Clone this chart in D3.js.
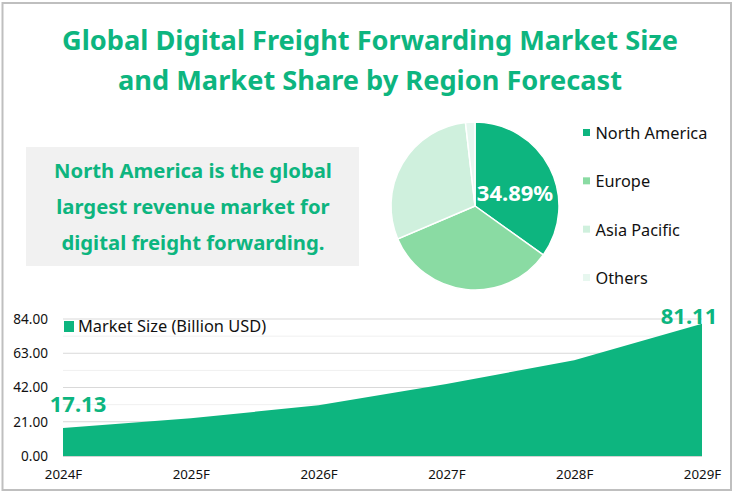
<!DOCTYPE html>
<html lang="en">
<head>
<meta charset="UTF-8">
<title>Global Digital Freight Forwarding Market</title>
<style>
  html, body { margin: 0; padding: 0; background: #fff; }
  svg { display: block; font-family: "Noto Sans", sans-serif; }
</style>
</head>
<body>
<svg id="chart" width="734" height="496"></svg>
<script src="https://d3js.org/d3.v7.min.js"></script>
<script>
const titleLines = ["Global Digital Freight Forwarding Market Size", "and Market Share by Region Forecast"]
const noteLines = ["North America is the global", "largest revenue market for", "digital freight forwarding."]

const regions = ["North America", "Europe", "Asia Pacific", "Others"]
const shares = [34.89, 33.7, 29.6, 1.81]
const regionColors = ["#0db57f", "#8adba3", "#cff0dd", "#e7f7ef"]

const years = ["2024F", "2025F", "2026F", "2027F", "2028F", "2029F"]
const marketSize = [17.13, 23.1, 31.1, 44.2, 58.7, 81.11]
const majorTicks = [0, 21, 42, 63, 84]
const minorTicks = [10.5, 31.5, 52.5, 73.5]

const green = "#0db57f"
const svg = d3.select("#chart")

// outer frame
svg.append("rect")
  .attr("x", 2.5).attr("y", 3).attr("width", 728.5).attr("height", 487)
  .attr("fill", "#fff").attr("stroke", "#bfbfbf").attr("stroke-width", 2)

// title
svg.append("g").selectAll("text")
  .data(titleLines)
  .enter().append("text")
  .attr("x", 370)
  .attr("y", (d, i) => 50 + i * 40)
  .attr("text-anchor", "middle")
  .attr("font-size", 27.2)
  .attr("font-weight", 700)
  .attr("fill", green)
  .text(d => d)

// note box
svg.append("rect")
  .attr("x", 26).attr("y", 147).attr("width", 333).attr("height", 119)
  .attr("fill", "#f1f1f1")

svg.append("g").selectAll("text")
  .data(noteLines)
  .enter().append("text")
  .attr("x", 193)
  .attr("y", (d, i) => 178 + i * 36)
  .attr("text-anchor", "middle")
  .attr("font-size", 20.3)
  .attr("font-weight", 700)
  .attr("fill", green)
  .text(d => d)

// pie
const pie = d3.pie().sort(null)
const arc = d3.arc().innerRadius(0).outerRadius(84)
const pieGroup = svg.append("g").attr("transform", "translate(475,206)")

pieGroup.selectAll("path")
  .data(pie(shares))
  .enter().append("path")
  .attr("d", arc)
  .attr("fill", (d, i) => regionColors[i])
  .attr("stroke", "#fff")
  .attr("stroke-width", 1.5)

pieGroup.append("text")
  .attr("x", 40).attr("y", -5)
  .attr("text-anchor", "middle")
  .attr("font-size", 22)
  .attr("font-weight", 700)
  .attr("fill", "#fff")
  .text(shares[0].toFixed(2) + "%")

// pie legend
const legendY = d3.scalePoint().domain(regions).range([133, 278])
const legend = svg.append("g").selectAll("g")
  .data(regions)
  .enter().append("g")
  .attr("transform", d => `translate(583,${legendY(d)})`)

legend.append("rect")
  .attr("x", 0).attr("y", -4).attr("width", 7).attr("height", 7)
  .attr("fill", (d, i) => regionColors[i])

legend.append("text")
  .attr("x", 12.5).attr("y", 6)
  .attr("font-size", 16.3)
  .attr("fill", "#111")
  .text(d => d)

// area chart
const xscale = d3.scalePoint().domain(years).range([63, 702])
const yscale = d3.scaleLinear().domain([0, 84]).range([456, 319])

svg.append("g").selectAll("line")
  .data(minorTicks)
  .enter().append("line")
  .attr("x1", 63).attr("x2", 702)
  .attr("y1", d => yscale(d)).attr("y2", d => yscale(d))
  .attr("stroke", "#f0f0f0")

svg.append("g").selectAll("line")
  .data(majorTicks)
  .enter().append("line")
  .attr("x1", 63).attr("x2", 702)
  .attr("y1", d => yscale(d)).attr("y2", d => yscale(d))
  .attr("stroke", d => d === 0 ? "#a6a6a6" : "#d9d9d9")

const area = d3.area()
  .x((d, i) => xscale(years[i]))
  .y0(yscale(0))
  .y1(d => yscale(d))

svg.append("path")
  .datum(marketSize)
  .attr("d", area)
  .attr("fill", green)

const yAxis = svg.append("g")
  .attr("transform", "translate(48,0)")
  .call(d3.axisLeft(yscale).tickValues(majorTicks).tickSize(0).tickPadding(0).tickFormat(d3.format(".2f")))
yAxis.select(".domain").remove()
yAxis.selectAll("text")
  .attr("font-family", "'Noto Sans', sans-serif")
  .attr("font-size", 13.6).attr("fill", "#111")

const xAxis = svg.append("g")
  .attr("transform", "translate(0,470)")
  .call(d3.axisBottom(xscale).tickSize(0).tickPadding(0))
xAxis.select(".domain").remove()
xAxis.selectAll("text")
  .attr("font-family", "'Noto Sans', sans-serif")
  .attr("font-size", 13.3).attr("fill", "#111")

// area value labels
svg.append("text")
  .attr("x", 78).attr("y", 412)
  .attr("text-anchor", "middle")
  .attr("font-size", 22).attr("font-weight", 700)
  .attr("fill", green)
  .text(marketSize[0].toFixed(2))

svg.append("text")
  .attr("x", 689).attr("y", 324)
  .attr("text-anchor", "middle")
  .attr("font-size", 22).attr("font-weight", 700)
  .attr("fill", green)
  .text(marketSize[5].toFixed(2))

// area legend
svg.append("rect")
  .attr("x", 64).attr("y", 321).attr("width", 10).attr("height", 11)
  .attr("fill", green)

svg.append("text")
  .attr("x", 78).attr("y", 332)
  .attr("font-size", 16.4)
  .attr("fill", "#111")
  .text("Market Size (Billion USD)")
</script>
</body>
</html>
